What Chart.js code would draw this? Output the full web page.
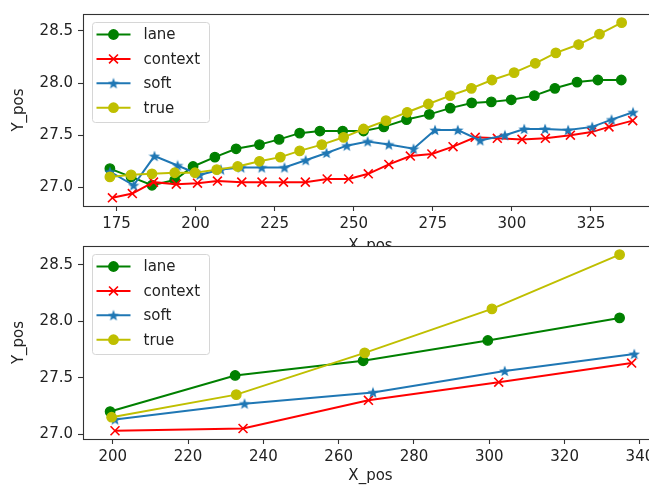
<!DOCTYPE html>
<html>
<head>
<meta charset="utf-8">
<script src="https://cdn.jsdelivr.net/npm/chart.js@4/dist/chart.umd.min.js"></script>
<style>
  html, body { margin: 0; padding: 0; background: #fff; width: 649px; height: 490px; overflow: hidden; }
  canvas { position: absolute; left: 0; }
</style>
</head>
<body>
<canvas id="topChart" width="700" height="262" style="top:0px"></canvas>
<canvas id="bottomChart" width="700" height="258" style="top:232px"></canvas>
<script>
// series names, same for both panels
const seriesNames = ['lane', 'context', 'soft', 'true'];

// top panel - every frame
const topLaneX = [172.9, 179.6, 186.2, 193.4, 199.2, 206.1, 212.8, 220.2, 226.4, 232.9, 239.3, 246.5, 253.1, 259.5, 266.7, 273.9, 280.5, 287.3, 293.5, 299.8, 307.1, 313.6, 320.6, 327.2, 334.6];
const topLaneY = [27.18, 27.10, 27.02, 27.07, 27.20, 27.29, 27.37, 27.41, 27.46, 27.52, 27.54, 27.54, 27.54, 27.58, 27.65, 27.70, 27.76, 27.81, 27.82, 27.84, 27.88, 27.95, 28.01, 28.03, 28.03];
const topContextX = [173.7, 180.0, 186.7, 193.9, 200.6, 206.9, 214.6, 221.0, 227.8, 234.7, 241.6, 248.4, 254.6, 261.1, 267.9, 274.7, 281.4, 288.4, 295.4, 303.2, 310.6, 318.5, 325.2, 330.7, 338.2];
const topContextY = [26.90, 26.94, 27.05, 27.03, 27.04, 27.06, 27.05, 27.05, 27.05, 27.05, 27.08, 27.08, 27.13, 27.22, 27.30, 27.32, 27.39, 27.48, 27.47, 27.46, 27.47, 27.50, 27.53, 27.58, 27.64];
const topSoftX = [172.9, 180.4, 187.0, 194.3, 201.3, 208.0, 214.4, 220.9, 228.1, 234.8, 241.4, 247.8, 254.4, 261.1, 268.9, 275.7, 282.9, 290.0, 297.8, 303.9, 310.5, 317.8, 325.4, 331.5, 338.3];
const topSoftY = [27.15, 27.02, 27.30, 27.21, 27.12, 27.17, 27.19, 27.19, 27.19, 27.26, 27.33, 27.40, 27.44, 27.41, 27.37, 27.55, 27.55, 27.45, 27.50, 27.56, 27.56, 27.55, 27.58, 27.65, 27.72];
const topTrueX = [172.9, 179.6, 186.2, 193.4, 199.8, 206.7, 213.3, 220.2, 226.8, 232.9, 239.9, 246.8, 253.1, 260.2, 266.9, 273.6, 280.5, 287.2, 293.7, 300.7, 307.4, 313.9, 321.1, 327.7, 334.7];
const topTrueY = [27.10, 27.12, 27.13, 27.14, 27.14, 27.17, 27.20, 27.25, 27.29, 27.35, 27.41, 27.48, 27.56, 27.64, 27.72, 27.80, 27.88, 27.95, 28.03, 28.10, 28.19, 28.29, 28.37, 28.47, 28.58];

// bottom panel - every 5th frame
const botLaneX = [199.3, 232.5, 266.5, 299.6, 334.6];
const botLaneY = [27.20, 27.52, 27.65, 27.83, 28.03];
const botContextX = [200.6, 234.6, 267.9, 302.5, 337.8];
const botContextY = [27.03, 27.05, 27.30, 27.46, 27.63];
const botSoftX = [200.6, 235.0, 269.1, 304.1, 338.5];
const botSoftY = [27.13, 27.27, 27.37, 27.56, 27.71];
const botTrueX = [199.7, 232.8, 266.9, 300.7, 334.6];
const botTrueY = [27.15, 27.35, 27.72, 28.11, 28.59];

// tick labels
const topXTicks = [175, 200, 225, 250, 275, 300, 325];
const botXTicks = [200, 220, 240, 260, 280, 300, 320, 340];
const yTicks = [27.0, 27.5, 28.0, 28.5];

const FONT = { family: 'DejaVu Sans', size: 15 };
const TEXT = '#222';
const AXIS = '#333';

// matplotlib-like filled star for the "soft" series
function makeStar(color, size) {
    const c = document.createElement('canvas');
    c.width = size; c.height = size;
    const g = c.getContext('2d');
    const ro = size / 2, ri = ro * 0.42;
    g.beginPath();
    for (let i = 0; i < 10; i++) {
        const r = i % 2 ? ri : ro;
        const a = -Math.PI / 2 + i * Math.PI / 5;
        g.lineTo(size / 2 + r * Math.cos(a), size / 2 + r * Math.sin(a) + 0.5);
    }
    g.closePath();
    g.fillStyle = color;
    g.fill();
    return c;
}

const styles = [
    { color: '#008000', pointStyle: 'circle', radius: 4.7 },
    { color: '#ff0000', pointStyle: 'crossRot', radius: 6.3 },
    { color: '#1f77b4', pointStyle: makeStar('#1f77b4', 12), radius: 5 },
    { color: '#bfbf00', pointStyle: 'circle', radius: 4.7 }
];

function toPoints(xs, ys) {
    return xs.map((x, i) => ({ x: x, y: ys[i] }));
}

function makeDatasets(series) {
    return series.map((s, i) => ({
        label: seriesNames[i],
        data: toPoints(s[0], s[1]),
        borderColor: styles[i].color,
        backgroundColor: styles[i].color,
        pointBackgroundColor: styles[i].color,
        pointBorderColor: styles[i].color,
        pointStyle: styles[i].pointStyle,
        pointRadius: styles[i].radius,
        pointBorderWidth: styles[i].pointStyle === 'crossRot' ? 1.6 : 1.4,
        borderWidth: 2,
        tension: 0,
        fill: false,
        order: series.length - 1 - i // later series drawn on top
    }));
}

function drawMarker(ctx, st, x, y) {
    ctx.fillStyle = st.color;
    ctx.strokeStyle = st.color;
    if (st.pointStyle === 'circle') {
        ctx.beginPath();
        ctx.arc(x, y, st.radius + 0.7, 0, Math.PI * 2);
        ctx.fill();
    } else if (st.pointStyle === 'crossRot') {
        const d = st.radius * Math.SQRT1_2;
        ctx.lineWidth = 1.6;
        ctx.beginPath();
        ctx.moveTo(x - d, y - d); ctx.lineTo(x + d, y + d);
        ctx.moveTo(x - d, y + d); ctx.lineTo(x + d, y - d);
        ctx.stroke();
    } else {
        const img = st.pointStyle;
        ctx.drawImage(img, x - img.width / 2, y - img.height / 2);
    }
}

// white plot area (covers the upper panel's x title like matplotlib does)
const plotBackground = {
    id: 'plotBackground',
    beforeDraw(chart) {
        const a = chart.chartArea;
        chart.ctx.save();
        chart.ctx.fillStyle = '#fff';
        chart.ctx.fillRect(a.left, a.top, a.right - a.left, a.bottom - a.top);
        chart.ctx.restore();
    }
};

// axes frame (right spine falls outside the window) and the boxed legend
const frameAndLegend = {
    id: 'frameAndLegend',
    afterDraw(chart) {
        const ctx = chart.ctx, a = chart.chartArea;
        ctx.save();
        ctx.strokeStyle = AXIS;
        ctx.lineWidth = 1.1;
        ctx.strokeRect(Math.round(a.left) + 0.5, Math.round(a.top) + 0.5,
            Math.round(a.right - a.left), Math.round(a.bottom - a.top));

        const x0 = a.left + 9.5, y0 = a.top + 8.5, w = 117, h = 100, r = 3;
        ctx.beginPath();
        ctx.moveTo(x0 + r, y0);
        ctx.arcTo(x0 + w, y0, x0 + w, y0 + h, r);
        ctx.arcTo(x0 + w, y0 + h, x0, y0 + h, r);
        ctx.arcTo(x0, y0 + h, x0, y0, r);
        ctx.arcTo(x0, y0, x0 + w, y0, r);
        ctx.closePath();
        ctx.fillStyle = 'rgba(255,255,255,0.8)';
        ctx.fill();
        ctx.strokeStyle = '#d6d6d6';
        ctx.lineWidth = 1;
        ctx.stroke();

        ctx.font = FONT.size + 'px "' + FONT.family + '"';
        ctx.textBaseline = 'middle';
        chart.data.datasets.forEach((ds, i) => {
            const y = y0 + 12 + i * 24.4;
            const st = styles[i];
            ctx.strokeStyle = st.color;
            ctx.lineWidth = 2;
            ctx.beginPath();
            ctx.moveTo(x0 + 4, y);
            ctx.lineTo(x0 + 38, y);
            ctx.stroke();
            drawMarker(ctx, st, x0 + 21, y);
            ctx.fillStyle = TEXT;
            ctx.fillText(ds.label, x0 + 51, y + 1);
        });
        ctx.restore();
    }
};

function makeChart(id, series, xMin, xMax, xTicks, yMin, yMax, xAxisHeight, xTitlePad) {
    const ctx = document.getElementById(id).getContext('2d');
    return new Chart(ctx, {
        type: 'line',
        data: { datasets: makeDatasets(series) },
        options: {
            responsive: false,
            animation: false,
            devicePixelRatio: 1,
            events: [],
            // chart area runs 83..653 px, a little past the 649 px window
            layout: { padding: { top: 12, right: 42, left: 0, bottom: 0 } },
            plugins: { legend: { display: false }, tooltip: { enabled: false } },
            scales: {
                x: {
                    type: 'linear',
                    min: xMin,
                    max: xMax,
                    afterBuildTicks: s => { s.ticks = xTicks.map(v => ({ value: v })); },
                    afterFit: s => { s.height = xAxisHeight; },
                    border: { display: false },
                    grid: { drawOnChartArea: false, drawTicks: true, tickLength: 5, tickColor: AXIS, tickWidth: 1.1 },
                    ticks: { font: FONT, color: TEXT, padding: 4, maxRotation: 0, autoSkip: false, callback: v => String(v) },
                    title: { display: true, text: 'X_pos', font: FONT, color: TEXT, padding: { top: 0, bottom: xTitlePad } }
                },
                y: {
                    type: 'linear',
                    min: yMin,
                    max: yMax,
                    afterBuildTicks: s => { s.ticks = yTicks.map(v => ({ value: v })); },
                    afterFit: s => { s.width = 83; },
                    border: { display: false },
                    grid: { drawOnChartArea: false, drawTicks: true, tickLength: 5, tickColor: AXIS, tickWidth: 1.1 },
                    ticks: { font: FONT, color: TEXT, padding: 5, autoSkip: false, callback: v => v.toFixed(1) },
                    title: { display: true, text: 'Y_pos', font: FONT, color: TEXT, padding: { top: 10, bottom: 0 } }
                }
            }
        },
        plugins: [plotBackground, frameAndLegend]
    });
}

makeChart('topChart',
    [[topLaneX, topLaneY], [topContextX, topContextY], [topSoftX, topSoftY], [topTrueX, topTrueY]],
    164.4, 346.2, topXTicks, 26.821, 28.663, 56, 7);

makeChart('bottomChart',
    [[botLaneX, botLaneY], [botContextX, botContextY], [botSoftX, botSoftY], [botTrueX, botTrueY]],
    192.1, 344.8, botXTicks, 26.957, 28.667, 51, 5);
</script>
</body>
</html>
